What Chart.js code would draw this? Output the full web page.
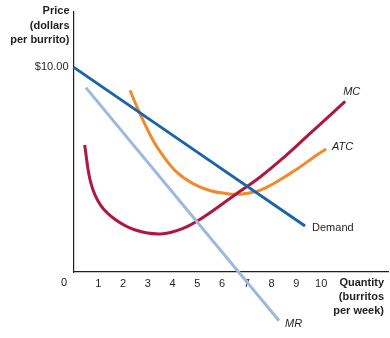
<!DOCTYPE html>
<html>
<head>
<meta charset="utf-8">
<script src="https://cdn.jsdelivr.net/npm/chart.js@4"></script>
<style>
  body { margin: 0; background: #fff; }
</style>
</head>
<body>
<canvas id="burritoChart" width="390" height="338"></canvas>
<script>
// tick labels
const quantityTicks = [1, 2, 3, 4, 5, 6, 7, 8, 9, 10];
const priceTicks = [10];

// curves (quantity, price)
const demandQ = [0, 9.35];
const demandP = [10, 2.24];
const mrQ = [0.5, 8.3];
const mrP = [9.0, -2.38];
const mcQ = [0.45, 0.7, 1.1, 1.7, 2.5, 3.5, 4.4, 5.3, 6.5, 7.5, 8.5, 9.5, 10.97];
const mcP = [6.2, 4.35, 3.25, 2.55, 2.05, 1.86, 2.12, 2.72, 3.75, 4.6, 5.6, 6.7, 8.33];
const atcQ = [2.28, 2.69, 3.21, 3.6, 4.18, 4.84, 5.5, 6.1, 6.73, 7.6, 8.8, 9.9, 10.2];
const atcP = [8.87, 7.71, 6.43, 5.7, 4.86, 4.3, 3.98, 3.84, 3.8, 4.02, 4.85, 5.77, 6.0];

const toPoints = (qs, ps) => qs.map((q, i) => ({ x: q, y: ps[i] }));

const textColor = '#231f20';
const fontFamily = '"Liberation Sans", Arial, Helvetica, sans-serif';

function curve(label, qs, ps, color, name, italic, dx, dy) {
  return {
    label: label,
    data: toPoints(qs, ps),
    borderColor: color,
    borderWidth: 3,
    pointRadius: 0,
    showLine: true,
    tension: 0.4,
    clip: false,
    tag: { name: name, italic: italic, dx: dx, dy: dy }
  };
}

// draws axis titles, the origin "0" and the curve names
const textPlugin = {
  id: 'textPlugin',
  afterDraw(chart) {
    const ctx = chart.ctx;
    const xs = chart.scales.x;
    const ys = chart.scales.y;
    ctx.save();
    ctx.fillStyle = textColor;
    ctx.textBaseline = 'middle';

    ctx.font = 'bold 11px ' + fontFamily;
    ctx.textAlign = 'right';
    ['Price', '(dollars', 'per burrito)'].forEach((t, i) => ctx.fillText(t, 69.5, 11 + i * 14.5));
    ['Quantity', '(burritos', 'per week)'].forEach((t, i) => ctx.fillText(t, 384, 283 + i * 14));

    ctx.font = '11px ' + fontFamily;
    ctx.textAlign = 'center';
    ctx.fillText('0', 64, 283);

    ctx.textAlign = 'left';
    chart.data.datasets.forEach(ds => {
      const last = ds.data[ds.data.length - 1];
      const px = xs.getPixelForValue(last.x);
      const py = ys.getPixelForValue(last.y);
      ctx.font = (ds.tag.italic ? 'italic ' : '') + '11px ' + fontFamily;
      ctx.fillText(ds.tag.name, px + ds.tag.dx, py + ds.tag.dy);
    });
    ctx.restore();
  }
};

new Chart(document.getElementById('burritoChart'), {
  type: 'scatter',
  data: {
    datasets: [
      curve('Demand', demandQ, demandP, '#1c64a9', 'Demand', false, 7, 2),
      curve('MR', mrQ, mrP, '#9fb9dd', 'MR', true, 6, 3),
      curve('MC', mcQ, mcP, '#b0173d', 'MC', true, -2, -9),
      curve('ATC', atcQ, atcP, '#f08a2c', 'ATC', true, 6, -2)
    ]
  },
  options: {
    responsive: false,
    animation: false,
    layout: { padding: { top: 5, right: 2, left: 0, bottom: 0 } },
    plugins: {
      legend: { display: false },
      tooltip: { enabled: false }
    },
    scales: {
      x: {
        type: 'linear',
        min: 0,
        max: 12.7,
        grid: { display: false, drawTicks: false },
        border: { display: true, color: '#231f20', width: 1.2 },
        afterFit: s => { s.height = 66; },
        afterBuildTicks: s => { s.ticks = quantityTicks.map(v => ({ value: v })); },
        ticks: {
          color: textColor,
          font: { size: 11, family: fontFamily },
          padding: 5,
          maxRotation: 0,
          autoSkip: false
        }
      },
      y: {
        type: 'linear',
        min: 0,
        max: 12.71,
        grid: { display: false, drawTicks: false },
        border: { display: true, color: '#231f20', width: 1.2 },
        afterFit: s => { s.width = 73.5; },
        afterBuildTicks: s => { s.ticks = priceTicks.map(v => ({ value: v })); },
        ticks: {
          color: textColor,
          font: { size: 11, family: fontFamily },
          padding: 5,
          callback: v => '$' + v.toFixed(2)
        }
      }
    }
  },
  plugins: [textPlugin]
});
</script>
</body>
</html>
